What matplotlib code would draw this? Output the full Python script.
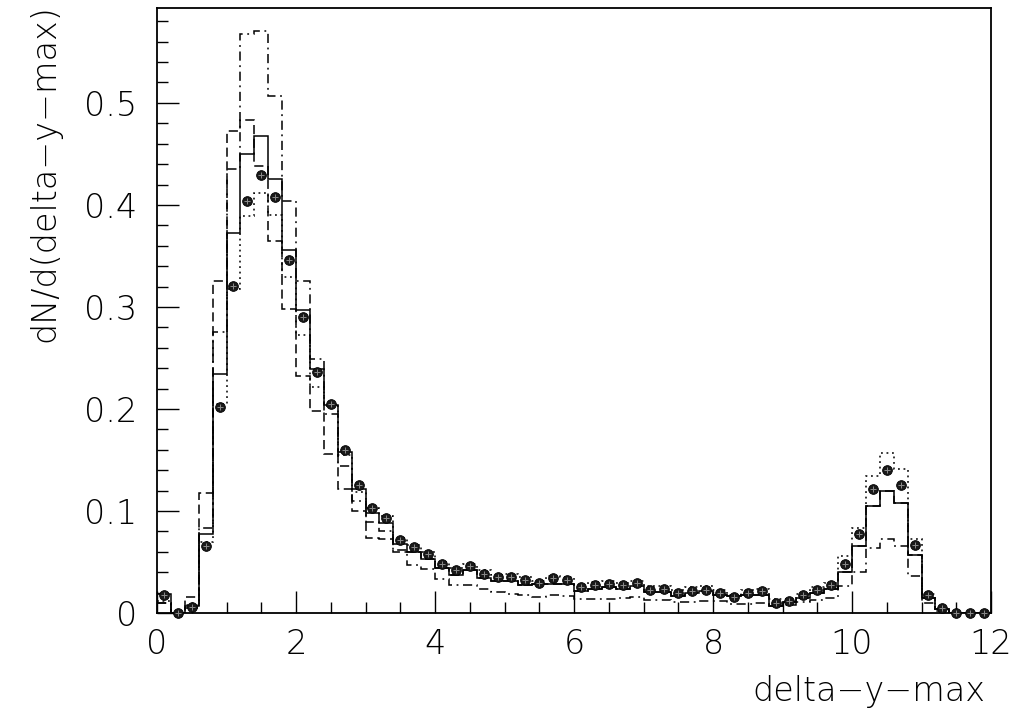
import numpy as np
import matplotlib
matplotlib.use("Agg")
import matplotlib.pyplot as plt
from matplotlib.ticker import MultipleLocator, FuncFormatter

# ---- data (60 bins of width 0.2 from 0 to 12) ----
bin_edges = np.linspace(0, 12, 61)

solid = [0.019, 0.0, 0.007, 0.077, 0.234, 0.372, 0.450, 0.468, 0.425, 0.356,
         0.297, 0.239, 0.204, 0.158, 0.122, 0.098, 0.088, 0.068, 0.060, 0.053,
         0.044, 0.037, 0.042, 0.034, 0.031, 0.031, 0.027, 0.028, 0.028, 0.028,
         0.022, 0.0235, 0.025, 0.024, 0.026, 0.021, 0.021, 0.017, 0.020, 0.0215,
         0.0176, 0.017, 0.018, 0.018, 0.007, 0.0105, 0.015, 0.020, 0.0235, 0.0405,
         0.066, 0.105, 0.120, 0.1075, 0.057, 0.0144, 0.0036, 0.0, 0.0, 0.0]

dashed = [0.010, 0.0, 0.016, 0.118, 0.325, 0.4725, 0.483, 0.438, 0.365, 0.298,
          0.232, 0.198, 0.156, 0.122, 0.100, 0.0732, 0.073, 0.060, 0.060, 0.053,
          0.044, 0.037, 0.042, 0.034, 0.031, 0.031, 0.027, 0.028, 0.028, 0.028,
          0.022, 0.0235, 0.025, 0.024, 0.026, 0.021, 0.021, 0.017, 0.020, 0.0215,
          0.0176, 0.017, 0.018, 0.018, 0.007, 0.0105, 0.015, 0.020, 0.0235, 0.0405,
          0.066, 0.105, 0.120, 0.1075, 0.057, 0.0144, 0.0036, 0.0, 0.0, 0.0]

dotted = [0.012, 0.0, 0.008, 0.070, 0.205, 0.318, 0.389, 0.412, 0.390, 0.329,
          0.2725, 0.222, 0.203, 0.155, 0.119, 0.103, 0.095, 0.074, 0.067, 0.060,
          0.050, 0.044, 0.048, 0.042, 0.037, 0.038, 0.035, 0.031, 0.0366, 0.035,
          0.0275, 0.030, 0.031, 0.029, 0.031, 0.026, 0.0265, 0.023, 0.025, 0.026,
          0.0225, 0.018, 0.0225, 0.024, 0.014, 0.014, 0.019, 0.025, 0.029, 0.056,
          0.083, 0.134, 0.157, 0.141, 0.073, 0.019, 0.004, 0.0, 0.0, 0.0]

dashdot = [0.010, 0.0, 0.005, 0.083, 0.275, 0.435, 0.568, 0.570, 0.507, 0.404,
           0.325, 0.249, 0.195, 0.1444, 0.110, 0.0895, 0.080, 0.062, 0.047, 0.043,
           0.033, 0.027, 0.027, 0.024, 0.021, 0.019, 0.018, 0.016, 0.018, 0.017,
           0.014, 0.014, 0.014, 0.015, 0.016, 0.013, 0.013, 0.011, 0.011, 0.012,
           0.012, 0.0085, 0.009, 0.010, 0.007, 0.008, 0.011, 0.013, 0.015, 0.026,
           0.0405, 0.064, 0.073, 0.066, 0.036, 0.0095, 0.002, 0.0, 0.0, 0.0]

points = [0.018, 0.0, 0.006, 0.066, 0.202, 0.321, 0.404, 0.429, 0.408, 0.346,
          0.290, 0.236, 0.205, 0.160, 0.125, 0.103, 0.093, 0.072, 0.065, 0.058,
          0.048, 0.042, 0.046, 0.038, 0.035, 0.035, 0.032, 0.029, 0.034, 0.032,
          0.025, 0.027, 0.028, 0.027, 0.029, 0.023, 0.024, 0.020, 0.022, 0.023,
          0.020, 0.016, 0.020, 0.022, 0.0095, 0.012, 0.018, 0.023, 0.027, 0.048,
          0.077, 0.122, 0.140, 0.125, 0.067, 0.018, 0.005, 0.0, 0.0, 0.0]

x_ticks = [0, 2, 4, 6, 8, 10, 12]
y_ticks = [0, 0.1, 0.2, 0.3, 0.4, 0.5]

# ---- figure ----
plt.rcParams['font.family'] = ['DejaVu Sans']
fig = plt.figure(figsize=(10.14, 7.17), dpi=100)
ax = fig.add_axes([157/1014, 104/717, (991-157)/1014, (613-8)/717])

lw = 1.1
ax.stairs(dashdot, bin_edges, baseline=None, color='black', lw=lw, linestyle=(0, (6, 3, 1.2, 3)))
ax.stairs(dashed, bin_edges, baseline=None, color='black', lw=lw, linestyle=(0, (6, 3)))
ax.stairs(dotted, bin_edges, baseline=None, color='black', lw=lw, linestyle=(0, (1.2, 2.4)))
ax.stairs(solid, bin_edges, baseline=None, color='black', lw=lw, linestyle='-')

centers = 0.5 * (bin_edges[:-1] + bin_edges[1:])
ax.plot(centers, points, 'o', ms=7, color='#1a1a1a', mec='black', mew=0.6, clip_on=False, zorder=5)
ax.plot(centers, points, '+', ms=4, color='#8a8a8a', mew=0.7, clip_on=False, zorder=6)

ax.set_xlim(0, 12)
ax.set_ylim(0, 0.593)

ax.set_xticks(x_ticks)
ax.set_yticks(y_ticks)
ax.xaxis.set_minor_locator(MultipleLocator(0.5))
ax.yaxis.set_minor_locator(MultipleLocator(0.02))
fmt = FuncFormatter(lambda v, p: f"{v:g}")
ax.xaxis.set_major_formatter(fmt)
ax.yaxis.set_major_formatter(fmt)

ax.tick_params(axis='both', which='major', direction='in', length=16, width=1.0,
               labelsize=24, top=False, right=False, colors='black')
ax.tick_params(axis='both', which='minor', direction='in', length=8, width=1.0,
               top=False, right=False)
ax.tick_params(axis='y', which='major', pad=14)
ax.tick_params(axis='x', which='major', pad=11)
for lab in ax.get_xticklabels() + ax.get_yticklabels():
    lab.set_fontweight('light')

for s in ax.spines.values():
    s.set_linewidth(1.3)
    s.set_color('black')

fig.text(985/1014, (717-691)/717, 'delta\u2212y\u2212max', ha='right', va='center',
         fontsize=24, fontweight='light')
fig.text(45/1014, (717-4)/717, 'dN/d(delta\u2212y\u2212max)', ha='center', va='top',
         rotation=90, fontsize=24, fontweight='light')

fig.savefig('out.png', dpi=100)
